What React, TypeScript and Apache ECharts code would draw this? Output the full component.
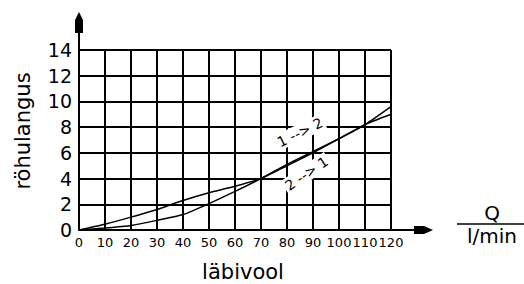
import { useEffect, useRef } from "react";
import * as echarts from "echarts";

const flow = [0, 10, 20, 30, 40, 50, 60, 70, 80, 90, 100, 110, 120];
const curveA = [0, 0.45, 1.0, 1.6, 2.3, 2.9, 3.4, 4.0, 5.0, 6.0, 7.1, 8.2, 9.0];
const curveB = [0, 0.15, 0.35, 0.75, 1.2, 2.05, 3.0, 4.0, 5.1, 6.1, 7.1, 8.2, 9.6];
const labelTop = "1 --> 2";
const labelBottom = "2 --> 1";
const xName = "läbivool";
const yName = "röhulangus";
const unitTop = "Q";
const unitBottom = "l/min";

const FONT = "DejaVu Sans";

export default function App() {
  const ref = useRef<HTMLDivElement>(null);
  useEffect(() => {
    const el = ref.current;
    if (!el) return;
    const chart = echarts.init(el, null, { renderer: "svg" });
    const line = (vals: number[]) => ({
      type: "line",
      data: flow.map((x, i) => [x, vals[i]]),
      showSymbol: false,
      smooth: 0.2,
      lineStyle: { color: "#000", width: 1.5 },
      z: 5,
    });
    chart.setOption({
      animation: false,
      backgroundColor: "#fff",
      grid: { left: 79, top: 50, width: 312, height: 180, containLabel: false, outerBoundsMode: "none" },
      xAxis: {
        type: "value",
        min: 0,
        max: 120,
        interval: 10,
        name: xName,
        nameLocation: "middle",
        nameGap: 31,
        nameMoveOverlap: false,
        nameTextStyle: { fontFamily: FONT, fontSize: 21, color: "#000", padding: [0, 0, 0, 16] },
        axisLine: { show: true, lineStyle: { color: "#000", width: 2 } },
        axisTick: { show: false },
        axisLabel: { fontFamily: FONT, fontSize: 13, color: "#000", margin: 6 },
        splitLine: { show: true, lineStyle: { color: "#000", width: 2 } },
      },
      yAxis: {
        type: "value",
        min: 0,
        max: 14,
        interval: 2,
        name: yName,
        nameLocation: "middle",
        nameRotate: 90,
        nameGap: 46,
        nameMoveOverlap: false,
        nameTextStyle: { fontFamily: FONT, fontSize: 21, color: "#000", padding: [0, 0, 0, 18] },
        axisLine: { show: true, lineStyle: { color: "#000", width: 2 } },
        axisTick: { show: false },
        axisLabel: { fontFamily: FONT, fontSize: 19, color: "#000", margin: 7 },
        splitLine: { show: true, lineStyle: { color: "#000", width: 2 } },
      },
      series: [line(curveA), line(curveB)],
    });

    const p = (x: number, y: number) =>
      chart.convertToPixel({ gridIndex: 0 }, [x, y]) as number[];
    const xe = p(120, 0);
    const ye = p(0, 14);
    const lt = p(85, 7.6);
    const lb = p(87.5, 4.4);
    chart.setOption({
      graphic: [
        { type: "line", shape: { x1: xe[0], y1: xe[1], x2: xe[0] + 26, y2: xe[1] }, style: { stroke: "#000", lineWidth: 2 }, z: 10 },
        {
          type: "polygon",
          shape: { points: [[xe[0] + 23, xe[1] - 4], [xe[0] + 33, xe[1] - 4], [xe[0] + 42, xe[1]], [xe[0] + 33, xe[1] + 4], [xe[0] + 23, xe[1] + 4]] },
          style: { fill: "#000" },
          z: 10,
        },
        { type: "line", shape: { x1: ye[0], y1: ye[1], x2: ye[0], y2: ye[1] - 20 }, style: { stroke: "#000", lineWidth: 2 }, z: 10 },
        {
          type: "polygon",
          shape: { points: [[ye[0] - 4, ye[1] - 17], [ye[0] - 4, ye[1] - 30], [ye[0], ye[1] - 38], [ye[0] + 4, ye[1] - 30], [ye[0] + 4, ye[1] - 17]] },
          style: { fill: "#000" },
          z: 10,
        },
        {
          type: "text",
          x: lt[0],
          y: lt[1],
          rotation: (26 * Math.PI) / 180,
          style: { text: labelTop, fill: "#000", font: `14px "${FONT}"`, align: "center", verticalAlign: "middle", backgroundColor: "#fff", padding: [1, 2] },
          z: 20,
        },
        {
          type: "text",
          x: lb[0],
          y: lb[1],
          rotation: (34 * Math.PI) / 180,
          style: { text: labelBottom, fill: "#000", font: `14px "${FONT}"`, align: "center", verticalAlign: "middle", backgroundColor: "#fff", padding: [1, 2] },
          z: 20,
        },
        {
          type: "text",
          x: 492,
          y: 213,
          style: { text: unitTop, fill: "#000", font: `20px "${FONT}"`, align: "center", verticalAlign: "middle" },
          z: 10,
        },
        { type: "line", shape: { x1: 457, y1: 224, x2: 524, y2: 224 }, style: { stroke: "#000", lineWidth: 1.5 }, z: 10 },
        {
          type: "text",
          x: 492,
          y: 236,
          style: { text: unitBottom, fill: "#000", font: `20px "${FONT}"`, align: "center", verticalAlign: "middle" },
          z: 10,
        },
      ],
    });
    return () => chart.dispose();
  }, []);
  return <div ref={ref} style={{ width: 524, height: 284, position: "absolute", left: 0, top: 0 }} />;
}
